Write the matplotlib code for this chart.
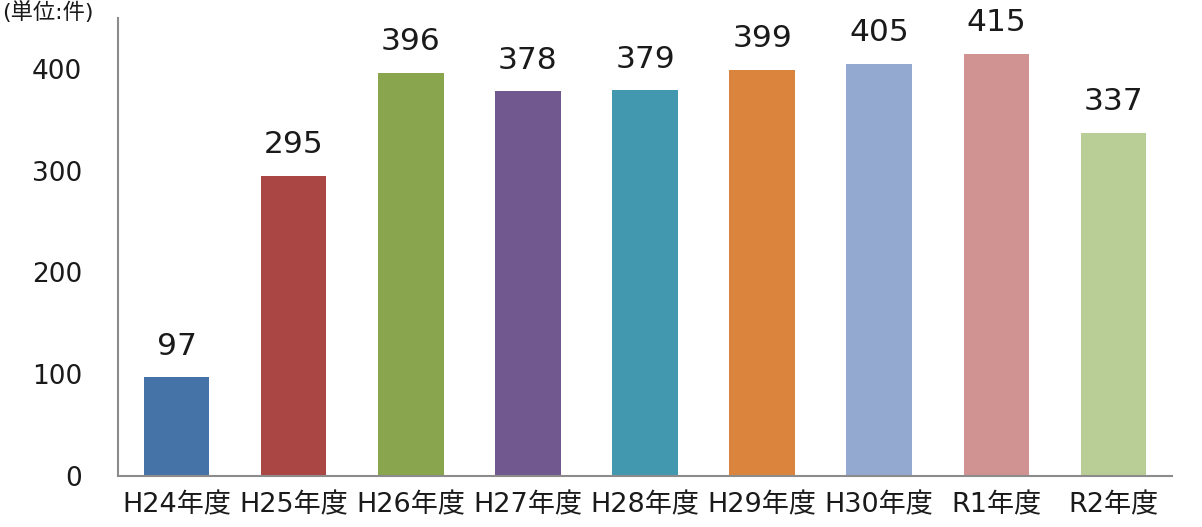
import matplotlib
matplotlib.use("Agg")
import matplotlib.pyplot as plt

plt.rcParams['font.family'] = ['DejaVu Sans', 'Noto Sans CJK JP']

# data
years = ['H24年度', 'H25年度', 'H26年度', 'H27年度', 'H28年度',
         'H29年度', 'H30年度', 'R1年度', 'R2年度']
counts = [97, 295, 396, 378, 379, 399, 405, 415, 337]
colors = ['#4673a7', '#aa4644', '#89a54e', '#71588f', '#4198af',
          '#db843d', '#93a9cf', '#d19392', '#b9cd96']

fig = plt.figure(figsize=(12.02, 5.27), dpi=100)
ax = fig.add_axes([118 / 1202, 51 / 527, (1172 - 118) / 1202, (476 - 18) / 527])

x = range(len(years))
bars = ax.bar(x, counts, width=0.56, color=colors)

for bar, v in zip(bars, counts):
    ax.annotate(str(v), (bar.get_x() + bar.get_width() / 2, v),
                xytext=(0, 12), textcoords='offset points',
                ha='center', va='bottom', fontsize=22.5, color='#1a1a1a')

ax.set_xlim(-0.5, len(years) - 0.5)
ax.set_ylim(0, 450)
ax.set_yticks([0, 100, 200, 300, 400])
ax.tick_params(axis='y', length=0, labelsize=19, pad=26, labelcolor='#1a1a1a')
ax.tick_params(axis='x', length=0, labelsize=19.5, pad=12, labelcolor='#1a1a1a')
ax.set_xticks(list(x))
ax.set_xticklabels(years)

ax.spines['top'].set_visible(False)
ax.spines['right'].set_visible(False)
ax.spines['left'].set_color('#8c8c8c')
ax.spines['bottom'].set_color('#8c8c8c')
ax.spines['left'].set_linewidth(1.5)
ax.spines['bottom'].set_linewidth(1.5)

# unit label in the top-left corner
fig.text(0.002, 0.998, '(単位:件)', fontsize=16, ha='left', va='top', color='#1a1a1a')

fig.savefig('out.png', dpi=100)
